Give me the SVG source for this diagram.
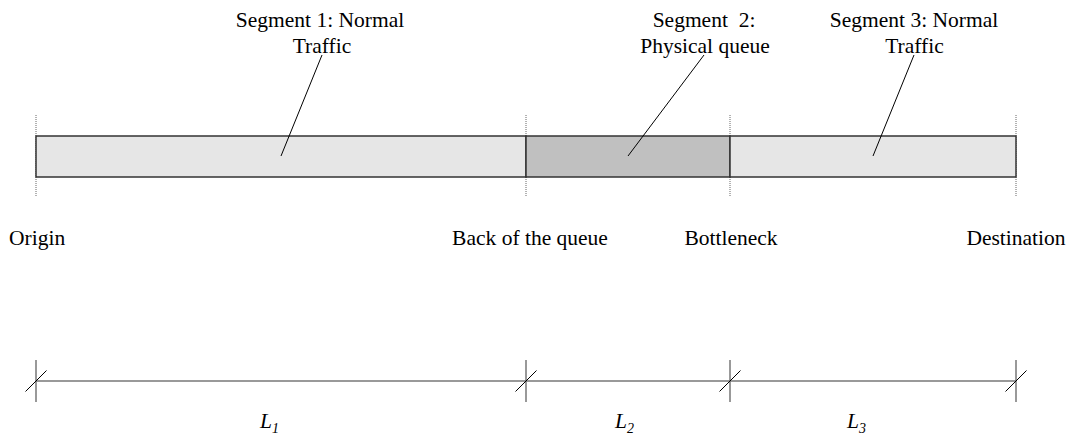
<svg xmlns="http://www.w3.org/2000/svg" width="1072" height="439" viewBox="0 0 1072 439">
<style>
text{font-family:"Liberation Serif","Times New Roman",serif;font-size:21.5px;fill:#000}
.seg{stroke:#333;stroke-width:1.5}
.light{fill:#e6e6e6}
.dark{fill:#c0c0c0}
.dot{stroke:#666;stroke-width:1;stroke-dasharray:1 1}
.lead{stroke:#000;stroke-width:1;fill:none}
.dim{stroke:#777;stroke-width:1.5}
.slash{stroke:#000;stroke-width:1}
.it{font-style:italic}
</style>
<rect width="1072" height="439" fill="#fff"/>
<g id="guides">
<line class="dot" x1="36" y1="115" x2="36" y2="197"/>
<line class="dot" x1="526" y1="115" x2="526" y2="197"/>
<line class="dot" x1="730" y1="115" x2="730" y2="197"/>
<line class="dot" x1="1016" y1="115" x2="1016" y2="197"/>
</g>
<g id="segment1">
<rect class="seg light" x="36" y="136" width="490" height="41"/>
<text x="320" y="27" text-anchor="middle">Segment 1: Normal</text>
<text x="322" y="53" text-anchor="middle">Traffic</text>
</g>
<g id="segment2">
<rect class="seg dark" x="526" y="136" width="204" height="41"/>
<text x="704" y="27" text-anchor="middle" xml:space="preserve">Segment  2:</text>
<text x="705" y="53" text-anchor="middle">Physical queue</text>
</g>
<g id="segment3">
<rect class="seg light" x="730" y="136" width="286" height="41"/>
<text x="914" y="27" text-anchor="middle">Segment 3: Normal</text>
<text x="914.5" y="53" text-anchor="middle">Traffic</text>
</g>
<g id="points">
<text x="9" y="245">Origin</text>
<text x="530" y="245" text-anchor="middle">Back of the queue</text>
<text x="731" y="245" text-anchor="middle">Bottleneck</text>
<text x="1016" y="245" text-anchor="middle">Destination</text>
</g>
<g id="connectors">
<line class="lead" x1="322" y1="55" x2="281" y2="156"/>
<line class="lead" x1="704" y1="55" x2="628" y2="156"/>
<line class="lead" x1="914" y1="55" x2="873" y2="156"/>
</g>
<g id="dimension">
<line class="dim" x1="36" y1="381" x2="1016" y2="381"/>
<line class="dim" x1="36" y1="360" x2="36" y2="402"/>
<line class="dim" x1="526" y1="360" x2="526" y2="402"/>
<line class="dim" x1="730" y1="360" x2="730" y2="402"/>
<line class="dim" x1="1016" y1="360" x2="1016" y2="402"/>
<line class="slash" x1="25.5" y1="391.5" x2="46.5" y2="370.5"/>
<line class="slash" x1="515.5" y1="391.5" x2="536.5" y2="370.5"/>
<line class="slash" x1="719.5" y1="391.5" x2="740.5" y2="370.5"/>
<line class="slash" x1="1005.5" y1="391.5" x2="1026.5" y2="370.5"/>
<text class="it" x="260" y="428">L<tspan font-size="14" dy="5">1</tspan></text>
<text class="it" x="615" y="428">L<tspan font-size="14" dy="5">2</tspan></text>
<text class="it" x="847" y="428">L<tspan font-size="14" dy="5">3</tspan></text>
</g>
</svg>
